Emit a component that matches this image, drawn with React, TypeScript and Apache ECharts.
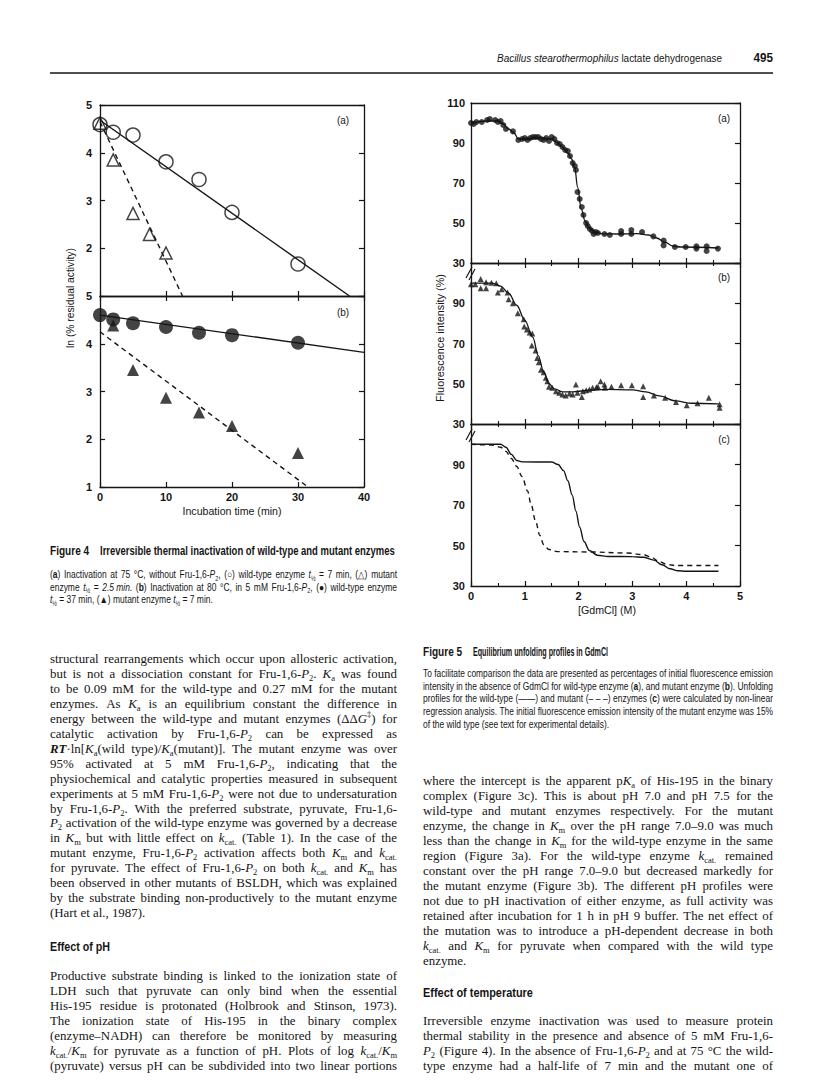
import React, { useEffect, useRef } from "react";
import * as echarts from "echarts";

const INK = "#151515";
const SERIF = "'Liberation Serif', 'Times New Roman', serif";
const SANS = "'Liberation Sans', Arial, Helvetica, sans-serif";

// ---------------- Figure 4 data (ln % residual activity vs time, min) ----------------
const fig4aWildTime = [0, 2, 5, 10, 15, 20, 30];
const fig4aWildLn = [4.59, 4.43, 4.37, 3.81, 3.44, 2.75, 1.67];
const fig4aMutTime = [0, 2, 5, 7.5, 10];
const fig4aMutLn = [4.62, 3.85, 2.73, 2.29, 1.9];
const fig4aWildFitTime = [0, 37.8];
const fig4aWildFitLn = [4.68, 1];
const fig4aMutFitTime = [0, 12.5];
const fig4aMutFitLn = [4.65, 1];

const fig4bWildTime = [0, 2, 5, 10, 15, 20, 30];
const fig4bWildLn = [4.6, 4.51, 4.43, 4.35, 4.23, 4.18, 4.02];
const fig4bMutTime = [2, 5, 10, 15, 20, 30];
const fig4bMutLn = [4.38, 3.45, 2.87, 2.56, 2.28, 1.71];
const fig4bWildFitTime = [0, 40];
const fig4bWildFitLn = [4.6, 3.82];
const fig4bMutFitTime = [0, 31.5];
const fig4bMutFitLn = [4.25, 1];

// ---------------- Figure 5 data ([GdmCl] (M), fluorescence %) ----------------
const fig5aPoints = [
  [0, 100], [0.05, 99.5], [0.1, 100.5], [0.2, 100.5], [0.3, 101.5], [0.35, 102], [0.45, 101.5],
  [0.5, 100.5], [0.55, 101], [0.6, 99], [0.65, 97], [0.78, 95.8], [0.88, 91.5], [0.95, 92],
  [1.0, 92.5], [1.05, 91.5], [1.1, 92.5], [1.15, 93], [1.2, 93], [1.25, 93], [1.3, 92],
  [1.35, 91.5], [1.4, 92.5], [1.45, 91], [1.5, 93], [1.55, 92], [1.6, 90], [1.65, 89.5],
  [1.7, 88], [1.75, 86.5], [1.8, 86], [1.84, 83.5], [1.89, 80], [1.93, 78.5], [1.95, 76.5],
  [1.98, 65.5], [2.02, 62], [2.06, 58], [2.09, 54], [2.14, 50], [2.17, 48.5], [2.21, 47],
  [2.25, 46], [2.28, 44.5], [2.32, 45.5], [2.36, 45], [2.48, 44.5], [2.58, 44], [2.79, 44.5],
  [2.79, 46], [2.98, 44.5], [2.98, 46.5], [3.18, 45.5], [3.39, 43.3], [3.58, 41.2], [3.58, 38.8],
  [3.79, 38], [3.99, 38], [4.19, 38.3], [4.19, 37.2], [4.38, 38.3], [4.38, 36], [4.59, 37.2],
];
const fig5aCurve = [
  [0, 100], [0.3, 101], [0.5, 101], [0.6, 99.5], [0.7, 97], [0.8, 95], [0.88, 92], [1.0, 92],
  [1.3, 92.5], [1.5, 92], [1.6, 90.3], [1.7, 88], [1.8, 85], [1.87, 82], [1.93, 77.5], [1.98, 68],
  [2.05, 57], [2.12, 51], [2.2, 47.5], [2.3, 45.5], [2.45, 44.6], [2.7, 44.5], [3.1, 44.7],
  [3.3, 44], [3.45, 42.5], [3.6, 40.5], [3.75, 38.5], [3.9, 38], [4.6, 37.5],
];
const fig5bPoints = [
  [0, 99.5], [0.08, 99.5], [0.18, 102], [0.18, 97.4], [0.28, 100.4], [0.28, 97.4], [0.38, 100.2],
  [0.47, 99.9], [0.5, 95.3], [0.57, 96.9], [0.68, 95.3], [0.7, 92], [0.78, 90], [0.87, 85],
  [0.98, 82], [0.99, 78.5], [1.04, 77], [1.09, 75.5], [1.14, 75], [1.13, 69], [1.2, 66.5],
  [1.23, 62.8], [1.26, 60.7], [1.3, 57], [1.35, 55.7], [1.39, 53], [1.42, 51.3], [1.45, 48.5],
  [1.51, 48], [1.58, 46.3], [1.64, 45.5], [1.7, 44.7], [1.76, 44.2], [1.83, 45.2], [1.89, 44.7],
  [1.95, 49.6], [1.98, 45.5], [2.06, 43.4], [2.08, 46.3], [2.14, 46.8], [2.2, 47.2], [2.26, 48],
  [2.33, 48.3], [2.36, 48.5], [2.41, 51.3], [2.48, 49.6], [2.49, 48], [2.61, 48.5], [2.79, 49.2],
  [2.99, 49.2], [3.2, 48.8], [3.2, 43.4], [3.4, 44.2], [3.61, 43], [3.81, 40.9], [4.01, 39.3],
  [4.21, 40.3], [4.42, 43], [4.62, 39.8], [4.62, 38.1],
];
const fig5bCurve = [
  [0, 100], [0.4, 100], [0.55, 98.5], [0.7, 95], [0.85, 89], [1.0, 81.5], [1.15, 73], [1.25, 64],
  [1.35, 56], [1.45, 50], [1.55, 47.5], [1.7, 46], [1.9, 46], [2.2, 46.8], [2.5, 47.2], [3.0, 47],
  [3.25, 46], [3.5, 44], [3.8, 41.5], [4.1, 40.3], [4.6, 40],
];
const fig5cWildCurve = [
  [0, 100], [0.55, 100], [0.65, 98.5], [0.75, 95], [0.85, 92], [0.95, 91.3], [1.5, 91.2],
  [1.62, 90], [1.72, 87], [1.8, 82], [1.88, 75], [1.95, 67], [2.02, 59], [2.1, 52], [2.2, 47.5],
  [2.35, 45.2], [2.55, 44.6], [3.0, 44.5], [3.2, 44.2], [3.4, 42.8], [3.55, 40.5], [3.7, 38.5],
  [3.85, 37.5], [4.0, 37.3], [4.6, 37.3],
];
const fig5cMutCurve = [
  [0, 100], [0.4, 99.6], [0.55, 98.5], [0.65, 96.5], [0.75, 93], [0.85, 89], [0.95, 84],
  [1.05, 77], [1.12, 70], [1.2, 62], [1.28, 55], [1.35, 50.5], [1.45, 48], [1.6, 47], [2.2, 46.8],
  [2.9, 46.3], [3.2, 45.5], [3.35, 44.2], [3.5, 42], [3.65, 40.6], [3.8, 40.1], [4.6, 40.1],
];

// ---------------- Texts ----------------
const headerTitle = "{i|Bacillus stearothermophilus} lactate dehydrogenase";
const pageNumber = "495";

const fig4Title = "Irreversible thermal inactivation of wild-type and mutant enzymes";
const fig4Caption = [
  "({b|a}) Inactivation at 75 °C, without Fru-1,6-{i|P}{s|2}, (○) wild-type enzyme {i|t}{s|½} = 7 min, (△) mutant",
  "enzyme {i|t}{s|½} = {i|2.5 min.} ({b|b}) Inactivation at 80 °C, in 5 mM Fru-1,6-{i|P}{s|2}, (●) wild-type enzyme",
  "{i|t}{s|½} = 37 min, (▲) mutant enzyme {i|t}{s|½} = 7 min.",
];
const fig5Title = "Equilibrium unfolding profiles in GdmCl";
const fig5Caption = [
  "To facilitate comparison the data are presented as percentages of initial fluorescence emission",
  "intensity in the absence of GdmCl for wild-type enzyme ({b|a}), and mutant enzyme ({b|b}). Unfolding",
  "profiles for the wild-type (——) and mutant (– – –) enzymes ({b|c}) were calculated by non-linear",
  "regression analysis. The initial fluorescence emission intensity of the mutant enzyme was 15%",
  "of the wild type (see text for experimental details).",
];

const leftPara1 = [
  "structural rearrangements which occur upon allosteric activation,",
  "but is not a dissociation constant for Fru-1,6-{i|P}{s|2}. {i|K}{s|a} was found",
  "to be 0.09 mM for the wild-type and 0.27 mM for the mutant",
  "enzymes. As {i|K}{s|a} is an equilibrium constant the difference in",
  "energy between the wild-type and mutant enzymes (ΔΔ{i|G}{p|‡}) for",
  "catalytic activation by Fru-1,6-{i|P}{s|2} can be expressed as",
  "{bi|RT}·ln[{i|K}{s|a}(wild type)/{i|K}{s|a}(mutant)]. The mutant enzyme was over",
  "95% activated at 5 mM Fru-1,6-{i|P}{s|2}, indicating that the",
  "physiochemical and catalytic properties measured in subsequent",
  "experiments at 5 mM Fru-1,6-{i|P}{s|2} were not due to undersaturation",
  "by Fru-1,6-{i|P}{s|2}. With the preferred substrate, pyruvate, Fru-1,6-",
  "{i|P}{s|2} activation of the wild-type enzyme was governed by a decrease",
  "in {i|K}{s|m} but with little effect on {i|k}{s|cat.} (Table 1). In the case of the",
  "mutant enzyme, Fru-1,6-{i|P}{s|2} activation affects both {i|K}{s|m} and {i|k}{s|cat.}",
  "for pyruvate. The effect of Fru-1,6-{i|P}{s|2} on both {i|k}{s|cat.} and {i|K}{s|m} has",
  "been observed in other mutants of BSLDH, which was explained",
  "by the substrate binding non-productively to the mutant enzyme",
  "(Hart et al., 1987).",
];
const leftHeading = "Effect of pH";
const leftPara2 = [
  "Productive substrate binding is linked to the ionization state of",
  "LDH such that pyruvate can only bind when the essential",
  "His-195 residue is protonated (Holbrook and Stinson, 1973).",
  "The ionization state of His-195 in the binary complex",
  "(enzyme–NADH) can therefore be monitored by measuring",
  "{i|k}{s|cat.}/{i|K}{s|m} for pyruvate as a function of pH. Plots of log {i|k}{s|cat.}/{i|K}{s|m}",
  "(pyruvate) versus pH can be subdivided into two linear portions",
];
const rightPara1 = [
  "where the intercept is the apparent p{i|K}{s|a} of His-195 in the binary",
  "complex (Figure 3c). This is about pH 7.0 and pH 7.5 for the",
  "wild-type and mutant enzymes respectively. For the mutant",
  "enzyme, the change in {i|K}{s|m} over the pH range 7.0–9.0 was much",
  "less than the change in {i|K}{s|m} for the wild-type enzyme in the same",
  "region (Figure 3a). For the wild-type enzyme {i|k}{s|cat.} remained",
  "constant over the pH range 7.0–9.0 but decreased markedly for",
  "the mutant enzyme (Figure 3b). The different pH profiles were",
  "not due to pH inactivation of either enzyme, as full activity was",
  "retained after incubation for 1 h in pH 9 buffer. The net effect of",
  "the mutation was to introduce a pH-dependent decrease in both",
  "{i|k}{s|cat.} and {i|K}{s|m} for pyruvate when compared with the wild type",
  "enzyme.",
];
const rightHeading = "Effect of temperature";
const rightPara2 = [
  "Irreversible enzyme inactivation was used to measure protein",
  "thermal stability in the presence and absence of 5 mM Fru-1,6-",
  "{i|P}{s|2} (Figure 4). In the absence of Fru-1,6-{i|P}{s|2} and at 75 °C the wild-",
  "type enzyme had a half-life of 7 min and the mutant one of",
];

// ---------------- Text helpers ----------------
type Font = { family: string; size: number; weight?: string; style?: string; glyph?: number };
const BODY: Font = { family: SERIF, size: 12.9, glyph: 1.0 };
const CAPTION: Font = { family: SANS, size: 10.2, glyph: 0.83 };
const TITLE: Font = { family: SANS, size: 12.3, weight: "bold" };
const HEADING: Font = { family: SANS, size: 12.8, weight: "bold" };
const LABEL: Font = { family: SANS, size: 10.5 };

function richFor(f: Font) {
  const base = {
    fontFamily: f.family,
    fontSize: f.size,
    fontWeight: f.weight || "normal",
    fontStyle: f.style || "normal",
    fill: INK,
    lineHeight: Math.round(f.size + 3),
  };
  const small = Math.round(f.size * 0.66 * 10) / 10;
  return {
    n: { ...base },
    i: { ...base, fontStyle: "italic" },
    b: { ...base, fontWeight: "bold" },
    bi: { ...base, fontWeight: "bold", fontStyle: "italic" },
    s: { ...base, fontSize: small, lineHeight: small, padding: [Math.round(f.size * 0.6), 0, 0, 0] },
    p: { ...base, fontSize: small, lineHeight: small, padding: [0, 0, Math.round(f.size * 0.7), 0] },
  };
}

let measureCtx: CanvasRenderingContext2D | null = null;
function measure(text: string, f: Font): number {
  if (!measureCtx) measureCtx = document.createElement("canvas").getContext("2d");
  const c = measureCtx as CanvasRenderingContext2D;
  const rich: any = richFor(f);
  const re = /\{(\w+)\|([^}]*)\}/g;
  const segs: [string, string][] = [];
  let last = 0;
  let m: RegExpExecArray | null;
  while ((m = re.exec(text))) {
    if (m.index > last) segs.push(["n", text.slice(last, m.index)]);
    segs.push([m[1], m[2]]);
    last = m.index + m[0].length;
  }
  if (last < text.length) segs.push(["n", text.slice(last)]);
  let w = 0;
  for (const [s, t] of segs) {
    const st = rich[s] || rich.n;
    c.font = `${st.fontStyle} ${st.fontWeight} ${st.fontSize}px ${st.fontFamily}`;
    w += c.measureText(t).width;
  }
  return w;
}

function splitWords(line: string): string[] {
  const out: string[] = [];
  let cur = "";
  let depth = 0;
  for (const ch of line) {
    if (ch === "{") depth++;
    if (ch === "}") depth--;
    if (ch === " " && depth === 0) {
      if (cur) out.push(cur);
      cur = "";
    } else cur += ch;
  }
  if (cur) out.push(cur);
  return out;
}

function textEl(text: string, x: number, y: number, f: Font, opts: { scaleX?: number; align?: string; rotation?: number } = {}) {
  const align = opts.align || "left";
  return {
    type: "text",
    x,
    y,
    rotation: opts.rotation || 0,
    scaleX: opts.scaleX || 1,
    scaleY: 1,
    silent: true,
    z: 10,
    style: {
      text,
      rich: richFor(f),
      fontFamily: f.family,
      fontSize: f.size,
      fontWeight: f.weight || "normal",
      fontStyle: f.style || "normal",
      fill: INK,
      align,
      verticalAlign: "middle",
      textAlign: align,
      textVerticalAlign: "middle",
    },
  };
}

function fitEl(text: string, x: number, y: number, width: number, f: Font, align = "left", rotation = 0) {
  return textEl(text, x, y, f, { scaleX: width / measure(text, f), align, rotation });
}

// justified paragraph: words are placed one by one, extra room goes into the gaps
function para(lines: string[], x: number, y0: number, lh: number, width: number, f: Font, justifyLast = false) {
  const g = f.glyph || 1;
  const sp = measure(" ", f);
  const els: any[] = [];
  lines.forEach((ln, li) => {
    const words = splitWords(ln);
    const ws = words.map((w) => measure(w, f));
    const sum = ws.reduce((a, b) => a + b, 0);
    const n = words.length;
    const justify = justifyLast || li < lines.length - 1;
    let s = g;
    let gap = sp * g;
    const natural = g * (sum + sp * (n - 1));
    if (natural > width) {
      s = width / (sum + sp * (n - 1));
      gap = sp * s;
    } else if (justify && n > 1) {
      gap = (width - g * sum) / (n - 1);
    }
    let cx = x;
    const y = y0 + li * lh;
    words.forEach((w, i) => {
      els.push(textEl(w, cx, y, f, { scaleX: s }));
      cx += ws[i] * s + gap;
    });
  });
  return els;
}

function line(x1: number, y1: number, x2: number, y2: number, w = 1.2) {
  return { type: "line", silent: true, z: 10, shape: { x1, y1, x2, y2 }, style: { stroke: INK, lineWidth: w } };
}

// ---------------- Axis helpers ----------------
const axisLine = { show: true, onZero: false, lineStyle: { color: INK, width: 1.3 } };
const tickLabel = { fontFamily: SANS, fontWeight: "bold", fontSize: 11, color: INK };

function xAx(gridIndex: number, position: string, min: number, max: number, interval: number, ticks: boolean, labels: boolean, minor = false) {
  return {
    type: "value",
    gridIndex,
    position,
    min,
    max,
    interval,
    axisLine,
    splitLine: { show: false },
    axisTick: { show: ticks, inside: true, length: 5, lineStyle: { color: INK, width: 1.2 } },
    minorTick: { show: minor && ticks, splitNumber: 2, length: 3, lineStyle: { color: INK, width: 1.1 } },
    minorSplitLine: { show: false },
    axisLabel: { show: labels, margin: 4, ...tickLabel },
  };
}

function yAx(gridIndex: number, position: string, min: number, max: number, interval: number, ticks: boolean, labels: boolean, showMin = true, showMax = true, margin = 7) {
  return {
    type: "value",
    gridIndex,
    position,
    min,
    max,
    interval,
    axisLine,
    splitLine: { show: false },
    axisTick: { show: ticks, inside: true, length: 5, lineStyle: { color: INK, width: 1.2 } },
    axisLabel: { show: labels, margin, showMinLabel: showMin, showMaxLabel: showMax, ...tickLabel },
  };
}

const zip = (xs: number[], ys: number[]) => xs.map((x, i) => [x, ys[i]]);

function scatter(axis: number, data: number[][], symbol: string, size: number, filled: boolean) {
  return {
    type: "scatter",
    xAxisIndex: axis,
    yAxisIndex: axis,
    symbol,
    symbolSize: size,
    silent: true,
    z: 4,
    itemStyle: filled
      ? { color: INK, borderWidth: 0 }
      : { color: "rgba(255,255,255,0)", borderColor: INK, borderWidth: 1.5 },
    data,
  };
}

function lineSeries(axis: number, data: number[][], dashed: boolean, smooth = false, width = 1.4) {
  return {
    type: "line",
    xAxisIndex: axis,
    yAxisIndex: axis,
    data,
    symbol: "none",
    showSymbol: false,
    silent: true,
    z: 3,
    smooth: smooth ? 0.35 : false,
    smoothMonotone: "x",
    lineStyle: { color: INK, width, type: dashed ? [5, 4] : "solid" },
  };
}

function buildOption() {
  const graphics: any[] = [];

  // header
  graphics.push(fitEl(headerTitle, 497, 58, 225, { family: SANS, size: 11.5 }));
  graphics.push(textEl(pageNumber, 773, 58, { family: SANS, size: 13, weight: "bold" }, { align: "right", scaleX: 0.9 }));
  graphics.push(line(50, 73, 773, 73, 1.5));

  // Figure 4 labels
  graphics.push(fitEl("ln (% residual activity)", 70, 298, 100, LABEL, "center", Math.PI / 2));
  graphics.push(fitEl("Incubation time (min)", 232, 511, 99, LABEL, "center"));
  graphics.push(textEl("(a)", 343, 120, LABEL, { align: "center", scaleX: 0.95 }));
  graphics.push(textEl("(b)", 343, 312, LABEL, { align: "center", scaleX: 0.95 }));

  // Figure 5 labels
  graphics.push(fitEl("Fluorescence intensity (%)", 440, 338, 128, LABEL, "center", Math.PI / 2));
  graphics.push(fitEl("[GdmCl] (M)", 607, 610, 58, LABEL, "center"));
  graphics.push(textEl("(a)", 724, 118, LABEL, { align: "center", scaleX: 0.95 }));
  graphics.push(textEl("(b)", 724, 277, LABEL, { align: "center", scaleX: 0.95 }));
  graphics.push(textEl("(c)", 724, 439, LABEL, { align: "center", scaleX: 0.95 }));
  // axis break marks
  graphics.push(line(466, 278, 472, 267, 1.2), line(469, 280, 475, 269, 1.2));
  graphics.push(line(466, 440, 472, 429, 1.2), line(469, 442, 475, 431, 1.2));

  // Figure 4 caption
  graphics.push(textEl("Figure 4", 50, 551, TITLE, { scaleX: 0.82 }));
  graphics.push(fitEl(fig4Title, 100, 551, 295, TITLE));
  graphics.push(...para(fig4Caption, 50, 575, 12.5, 347, CAPTION));

  // Figure 5 caption
  graphics.push(textEl("Figure 5", 423, 652, TITLE, { scaleX: 0.82 }));
  graphics.push(fitEl(fig5Title, 473, 652, 135, TITLE));
  graphics.push(...para(fig5Caption, 423, 674, 12.6, 350, CAPTION));

  // Body text, left column
  graphics.push(...para(leftPara1, 50, 659, 14.95, 347, BODY));
  graphics.push(fitEl(leftHeading, 50, 946, 60, HEADING));
  graphics.push(...para(leftPara2, 50, 976, 15, 347, BODY, true));

  // Body text, right column
  graphics.push(...para(rightPara1, 423, 781, 15, 350, BODY));
  graphics.push(fitEl(rightHeading, 423, 993, 110, HEADING));
  graphics.push(...para(rightPara2, 423, 1021, 15, 350, BODY, true));

  const grids = [
    { left: 100, top: 105, width: 264, height: 191 },
    { left: 100, top: 296, width: 264, height: 191 },
    { left: 471, top: 103, width: 269, height: 160 },
    { left: 471, top: 263, width: 269, height: 161 },
    { left: 471, top: 424, width: 269, height: 162 },
  ];

  const xAxis = [
    xAx(0, "bottom", 0, 40, 10, true, false),
    xAx(0, "top", 0, 40, 10, false, false),
    xAx(1, "bottom", 0, 40, 10, true, true),
    xAx(1, "top", 0, 40, 10, true, false),
    xAx(2, "bottom", 0, 5, 1, true, false, true),
    xAx(2, "top", 0, 5, 1, false, false),
    xAx(3, "bottom", 0, 5, 1, true, false, true),
    xAx(3, "top", 0, 5, 1, true, false, true),
    xAx(4, "bottom", 0, 5, 1, true, true, true),
    xAx(4, "top", 0, 5, 1, true, false, true),
  ];
  const yAxis = [
    yAx(0, "left", 1, 5, 1, true, true, false, true, 8),
    yAx(0, "right", 1, 5, 1, true, false),
    yAx(1, "left", 1, 5, 1, true, true, true, true, 8),
    yAx(1, "right", 1, 5, 1, true, false),
    yAx(2, "left", 30, 110, 20, false, true, true, true, 6),
    yAx(2, "right", 30, 110, 20, true, false),
    yAx(3, "left", 30, 110, 20, false, true, true, false, 6),
    yAx(3, "right", 30, 110, 20, true, false),
    yAx(4, "left", 30, 110, 20, false, true, true, false, 6),
    yAx(4, "right", 30, 110, 20, true, false),
  ];

  const series = [
    // Fig 4 (a)
    lineSeries(0, zip(fig4aWildFitTime, fig4aWildFitLn), false),
    lineSeries(0, zip(fig4aMutFitTime, fig4aMutFitLn), true),
    scatter(0, zip(fig4aWildTime, fig4aWildLn), "circle", 14, false),
    scatter(0, zip(fig4aMutTime, fig4aMutLn), "triangle", 12, false),
    // Fig 4 (b)
    lineSeries(2, zip(fig4bWildFitTime, fig4bWildFitLn), false),
    lineSeries(2, zip(fig4bMutFitTime, fig4bMutFitLn), true),
    scatter(2, zip(fig4bWildTime, fig4bWildLn), "circle", 14, true),
    scatter(2, zip(fig4bMutTime, fig4bMutLn), "triangle", 12, true),
    // Fig 5 (a)
    lineSeries(4, fig5aCurve, false, true, 1.3),
    scatter(4, fig5aPoints, "circle", 6, true),
    // Fig 5 (b)
    lineSeries(6, fig5bCurve, false, true, 1.3),
    scatter(6, fig5bPoints, "triangle", 6, true),
    // Fig 5 (c)
    lineSeries(8, fig5cWildCurve, false, true, 1.4),
    lineSeries(8, fig5cMutCurve, true, true, 1.4),
  ];

  return {
    animation: false,
    backgroundColor: "#ffffff",
    grid: grids,
    xAxis,
    yAxis,
    series,
    graphic: { elements: graphics },
  };
}

export default function App() {
  const ref = useRef<HTMLDivElement>(null);
  useEffect(() => {
    if (!ref.current) return;
    const chart = echarts.init(ref.current, undefined, { renderer: "svg" });
    chart.setOption(buildOption() as any);
    return () => chart.dispose();
  }, []);
  return (
    <div
      ref={ref}
      style={{ position: "absolute", left: 0, top: 0, width: 816, height: 1089, background: "#ffffff" }}
    />
  );
}
